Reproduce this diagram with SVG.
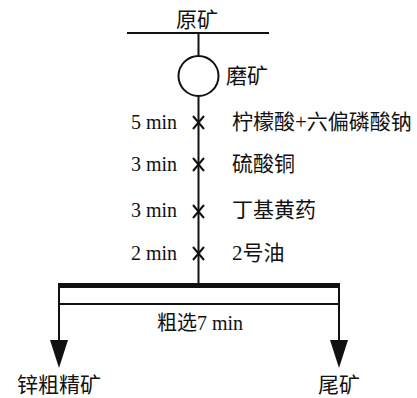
<svg xmlns="http://www.w3.org/2000/svg" width="417" height="398" viewBox="0 0 417 398">
<defs>
<style>
text{font-family:"Liberation Serif","Noto Sans CJK SC",serif;font-size:20px;fill:#111}
.cn{font-size:21px}
.ln{stroke:#111;stroke-width:2;fill:none}
.x{stroke:#111;stroke-width:2}
.ah{fill:#111}
</style>
</defs>
<g id="feed">
<line class="ln" x1="127" y1="33" x2="269" y2="33"/>
<text class="cn" x="197" y="27" text-anchor="middle">原矿</text>
</g>
<g id="grind">
<circle cx="198.5" cy="76" r="20" class="ln"/>
<text class="cn" x="226" y="83">磨矿</text>
</g>
<g id="connectors">
<line class="ln" x1="198.5" y1="33" x2="198.5" y2="56"/>
<line class="ln" x1="198.5" y1="96" x2="198.5" y2="285"/>
<line x1="58" y1="285.5" x2="340" y2="285.5" stroke="#111" stroke-width="5"/>
<line class="ln" x1="59" y1="304" x2="339" y2="304"/>
<line class="ln" x1="59" y1="285" x2="59" y2="345"/>
<line class="ln" x1="339" y1="285" x2="339" y2="345"/>
<polygon class="ah" points="50,340 68,340 59,368"/>
<polygon class="ah" points="330,340 348,340 339,368"/>
</g>
<g id="reagent1">
<path class="x" d="M193,116 L204,129 M204,116 L193,129"/>
<text x="177" y="129" text-anchor="end">5 min</text>
<text class="cn" x="232" y="129">柠檬酸+六偏磷酸钠</text>
</g>
<g id="reagent2">
<path class="x" d="M193,158 L204,171 M204,158 L193,171"/>
<text x="177" y="171" text-anchor="end">3 min</text>
<text class="cn" x="232" y="171">硫酸铜</text>
</g>
<g id="reagent3">
<path class="x" d="M193,205 L204,218 M204,205 L193,218"/>
<text x="177" y="217" text-anchor="end">3 min</text>
<text class="cn" x="232" y="217">丁基黄药</text>
</g>
<g id="reagent4">
<path class="x" d="M193,247 L204,260 M204,247 L193,260"/>
<text x="177" y="260" text-anchor="end">2 min</text>
<text class="cn" x="232" y="260">2号油</text>
</g>
<g id="rougher">
<text x="200" y="330" text-anchor="middle">粗选7 min</text>
</g>
<g id="concentrate">
<text class="cn" x="17" y="392">锌粗精矿</text>
</g>
<g id="tailings">
<text class="cn" x="318" y="392">尾矿</text>
</g>
</svg>
